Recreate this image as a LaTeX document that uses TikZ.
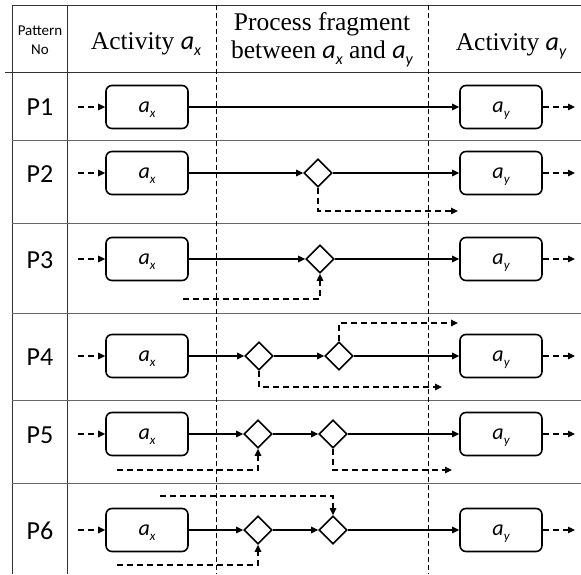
\documentclass[tikz,border=0pt]{standalone}
\usepackage{fontspec}
\setmainfont{Liberation Serif}
\newfontfamily\carl{Carlito}
\usetikzlibrary{shapes.geometric,arrows.meta}
\newcommand\boxlab[1]{\raisebox{0pt}[\height][0pt]{\carl\itshape\fontsize{22}{22}\selectfont a\raisebox{-5pt}{\fontsize{13}{13}\selectfont #1}}}
\newcommand\hvar[1]{{\carl\itshape\fontsize{26}{26}\selectfont a\raisebox{-6pt}{\fontsize{16}{16}\selectfont #1}}}
\tikzset{
  act/.style={draw, line width=1.6pt, rounded corners=6pt, minimum width=82pt, minimum height=43pt, inner sep=0pt},
  gw/.style={draw, diamond, line width=1.6pt, minimum width=28pt, minimum height=28pt, inner sep=0pt},
  flow/.style={line width=1.5pt, -{Triangle[length=7pt,width=6.5pt]}},
  dflow/.style={flow, dash pattern=on 6pt off 4pt},
  grid/.style={line width=1pt, black!80},
  rowline/.style={line width=1pt, black!60},
  vsep/.style={line width=0.7pt, dash pattern=on 5pt off 3pt},
  plabel/.style={font=\carl\fontsize{26}{26}\selectfont, inner sep=0pt},
  hdr/.style={font=\fontsize{25.5}{28}\selectfont, align=center, inner sep=0pt},
}
\begin{document}
\begin{tikzpicture}[x=1pt, y=-1pt]
\useasboundingbox (0,0) rectangle (581,574);
% table
\draw[grid] (12,5) -- (581,5);
\draw[grid] (12,5) -- (12,574);
\draw[grid] (67,5) -- (67,574);
\draw[grid] (5,72) -- (581,72);
\foreach \yy in {140,223,313,400,483} {\draw[rowline] (12,\yy) -- (581,\yy);}
\draw[vsep] (216,5) -- (216,574);
\draw[vsep] (428,5) -- (428,574);
% header
\node[font=\carl\fontsize{15}{19}\selectfont, align=center, inner sep=0pt] (h0) at (40,40) {Pattern\\No};
\node[hdr] (h1) at (146,44) {Activity \hvar{x}};
\node[hdr] (h2) at (322,40) {Process fragment\\between \hvar{x} and \hvar{y}};
\node[hdr] (h3) at (511,46) {Activity \hvar{y}};
% pattern labels
\node[plabel] (p1) at (40,107) {P1};
\node[plabel] (p2) at (40,174) {P2};
\node[plabel] (p3) at (40,260) {P3};
\node[plabel] (p4) at (40,357) {P4};
\node[plabel] (p5) at (40,435) {P5};
\node[plabel] (p6) at (40,531) {P6};
% activities
\foreach \r/\yy in {1/107,2/173,3/259,4/356,5/434,6/530} {
  \node[act] (ax\r) at (147,\yy) {\boxlab{x}};
  \node[act] (ay\r) at (501,\yy) {\boxlab{y}};
  \coordinate (in\r) at (78,\yy);
  \coordinate (out\r) at (575,\yy);
  \draw[dflow] (in\r) -- (ax\r);
  \draw[dflow] (ay\r) -- (out\r);
}
% P1
\draw[flow] (ax1) -- (ay1);
% P2
\node[gw] (d2) at (318,173) {};
\draw[flow] (ax2) -- (d2);
\draw[flow] (d2) -- (ay2);
\coordinate (e2) at (458,211);
\draw[dflow] (d2.south) |- (e2);
% P3
\node[gw] (d3) at (320,259) {};
\draw[flow] (ax3) -- (d3);
\draw[flow] (d3) -- (ay3);
\coordinate (s3) at (183,299);
\draw[dflow] (s3) -| (d3.south);
% P4
\node[gw] (d4a) at (259,356) {};
\node[gw] (d4b) at (339,356) {};
\draw[flow] (ax4) -- (d4a);
\draw[flow] (d4a) -- (d4b);
\draw[flow] (d4b) -- (ay4);
\coordinate (e4a) at (442,387);
\coordinate (e4b) at (458,323);
\draw[dflow] (d4a.south) |- (e4a);
\draw[dflow] (d4b.north) |- (e4b);
% P5
\node[gw] (d5a) at (258,434) {};
\node[gw] (d5b) at (333,434) {};
\draw[flow] (ax5) -- (d5a);
\draw[flow] (d5a) -- (d5b);
\draw[flow] (d5b) -- (ay5);
\coordinate (s5) at (117,470);
\coordinate (e5) at (452,470);
\draw[dflow] (s5) -| (d5a.south);
\draw[dflow] (d5b.south) |- (e5);
% P6
\node[gw] (d6a) at (258,530) {};
\node[gw] (d6b) at (333,530) {};
\draw[flow] (ax6) -- (d6a);
\draw[flow] (d6a) -- (d6b);
\draw[flow] (d6b) -- (ay6);
\coordinate (s6a) at (117,565);
\coordinate (s6b) at (160,496);
\draw[dflow] (s6a) -| (d6a.south);
\draw[dflow] (s6b) -| (d6b.north);
\end{tikzpicture}
\end{document}
